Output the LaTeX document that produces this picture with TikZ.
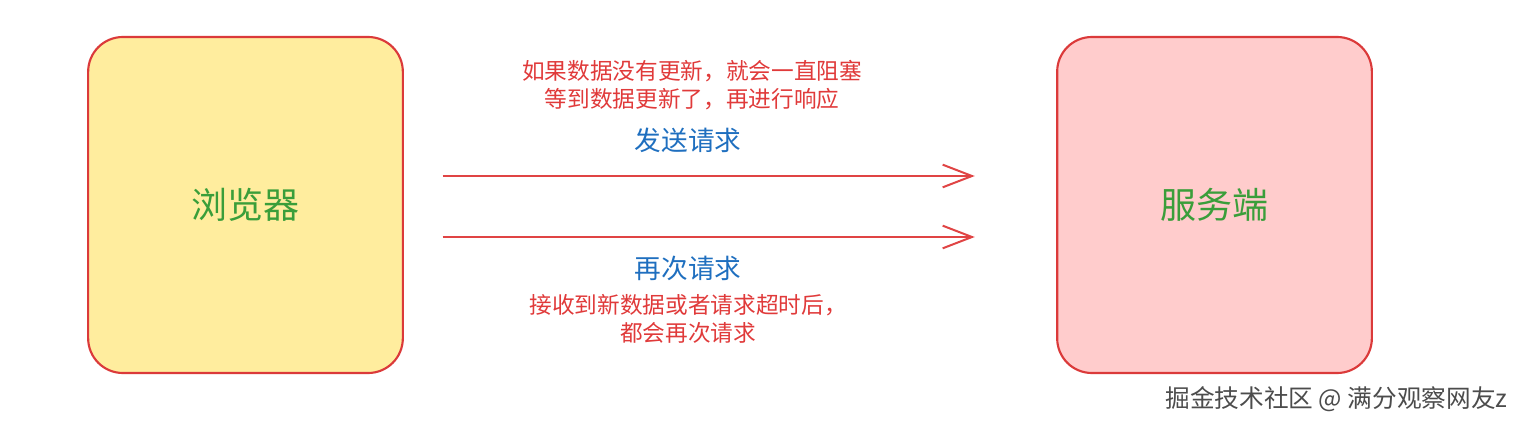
\documentclass[tikz,border=0pt]{standalone}
\usepackage{fontspec}
\usepackage{xcolor}
\usetikzlibrary{arrows.meta}
\newfontfamily\cjk{Noto Sans CJK SC}
\definecolor{boxred}{HTML}{DB3A3A}
\definecolor{linered}{HTML}{E04444}
\definecolor{notered}{HTML}{E03A3A}
\definecolor{labelblue}{HTML}{1F6FBF}
\definecolor{namegreen}{HTML}{3A9E3A}
\definecolor{clientfill}{HTML}{FFED9E}
\definecolor{serverfill}{HTML}{FFCCCC}
\tikzstyle{party} = [rectangle, rounded corners=26pt, minimum width=236pt,
           minimum height=252pt, text centered, draw=boxred, line width=1.6pt,
           font=\cjk\fontsize{27}{32}\selectfont, text=namegreen]
\tikzstyle{note} = [align=center, text=notered, inner sep=0pt,
           font=\cjk\fontsize{17}{21.5}\selectfont]
\tikzstyle{msg} = [text=labelblue, inner sep=0pt,
           font=\cjk\fontsize{20}{24}\selectfont]
\tikzstyle{arrow} = [line width=1.5pt, draw=linered,
           -{Straight Barb[length=22pt,width=17pt,line width=1.5pt]}]

\begin{document}
\begin{tikzpicture}[x=0.75pt,y=-0.75pt]
\useasboundingbox (0,0) rectangle (1526,428);
\node (browser) [party, fill=clientfill] at (245.5,205) {浏览器};
\node (server) [party, fill=serverfill] at (1214.5,205) {服务端};
% labels above and below the arrows
\node (block) [note] at (692,85)
   {如果数据没有更新，就会一直阻塞\\等到数据更新了，再进行响应};
\node (send) [msg] at (688,140) {发送请求};
\node (again) [msg] at (688,268) {再次请求};
\node (retry) [note] at (688,319)
   {接收到新数据或者请求超时后，\\都会再次请求};
\draw [arrow, shorten <=29pt, shorten >=61pt]
   ([yshift=21.75pt]browser.east) -- ([yshift=21.75pt]server.west);
\draw [arrow, shorten <=29pt, shorten >=61pt]
   ([yshift=-24pt]browser.east) -- ([yshift=-24pt]server.west);
\node (mark) [text=black!70, inner sep=0pt,
   font=\cjk\fontsize{18.5}{22}\selectfont] at (1336.5,399)
   {掘金技术社区 @ 满分观察网友z};
\end{tikzpicture}
\end{document}
